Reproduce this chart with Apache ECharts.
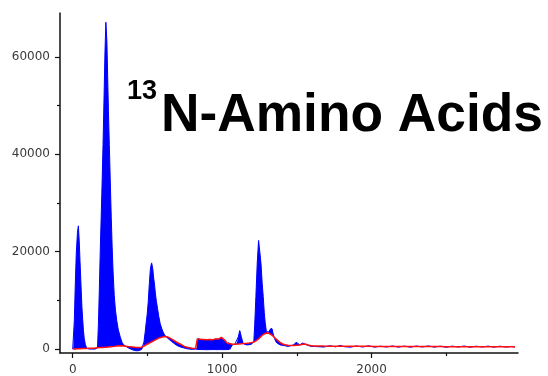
<!DOCTYPE html>
<html><head><meta charset="utf-8">
<script src="https://cdn.jsdelivr.net/npm/echarts@6/dist/echarts.min.js"></script>
<style>html,body{margin:0;padding:0;background:#fff}#c{width:548px;height:376px}</style>
</head><body><div id="c"></div>
<script>
// retention time (x), detector signal and integration baseline
const TIME = [0,4,11,17,24,32,38,44,49,56,62,67,72,77,85,94,110,130,150,166,172,178,186,195,203,210,216,222,229,234,239,245,251,258,264,270,278,286,295,305,318,330,340,355,370,385,400,415,430,445,460,470,477,485,492,498,505,513,520,527,531,536,541,547,553,560,568,576,585,595,605,615,622,630,645,660,677,695,712,730,744,760,780,800,822,830,834,845,855,865,875,885,895,905,915,925,935,945,955,965,975,985,995,1005,1015,1025,1035,1045,1055,1070,1085,1098,1108,1118,1128,1140,1150,1165,1180,1195,1204,1212,1218,1226,1235,1244,1252,1260,1268,1275,1282,1288,1296,1305,1312,1320,1327,1334,1341,1350,1362,1375,1390,1405,1420,1440,1460,1480,1495,1505,1520,1540,1555,1570,1590,1610,1640,1680,1720,1760,1790,1820,1860,1900,1940,1980,2020,2060,2100,2140,2180,2220,2260,2300,2340,2380,2420,2460,2500,2540,2580,2620,2660,2700,2740,2780,2820,2860,2900,2940,2960];
const SIGNAL = [0,0,6000,13000,19700,24000,25300,22000,18000,12800,8500,6000,3800,2200,900,150,20,0,0,300,5000,12000,22000,32000,42000,52000,61000,67100,63000,56000,49000,42000,35000,27000,21000,16000,11000,8000,5800,4000,2500,1400,900,600,300,50,-150,-300,-350,-300,-100,300,1500,3500,5500,7000,9500,13500,16500,17600,17900,16500,14800,13400,11500,9800,8300,6700,5300,4300,3500,2900,2600,2400,2000,1600,1200,800,550,350,250,100,0,-50,0,0,-100,-80,-120,-100,-90,-110,-100,-120,-80,-100,-110,-90,-100,-120,-100,-90,-100,-110,-80,-100,-120,-100,-80,900,1000,1200,2500,3800,2600,1200,900,850,900,1000,1200,1500,5000,10800,17700,22300,20000,17600,13500,10800,7500,5500,3600,3300,3500,4000,4400,4200,3200,2200,1400,1000,850,750,700,550,700,900,1400,1100,900,1250,1000,800,600,550,500,420,700,450,760,480,400,650,420,680,400,600,420,650,400,620,380,640,420,660,400,600,380,620,420,640,380,600,420,620,400,600,420,560,450];
const BASELINE = [0,10,20,30,40,50,60,70,80,90,100,110,120,120,130,140,160,180,220,260,280,290,310,330,350,370,390,400,420,430,440,460,480,500,520,540,560,590,620,650,680,660,640,600,540,500,450,400,350,320,400,500,600,800,900,1000,1100,1250,1350,1450,1550,1650,1700,1800,1900,2000,2150,2250,2350,2450,2520,2580,2600,2550,2350,2100,1800,1450,1150,850,600,420,300,180,100,150,2100,2250,2000,2150,1950,2050,1900,2000,1950,2100,1900,2000,2100,2200,2050,2250,2400,2100,1900,1500,1200,1400,1100,1000,1020,1040,1060,1080,1100,1130,1160,1200,1260,1330,1380,1450,1550,1700,1900,2100,2350,2600,2850,3000,3150,3250,3300,3300,3250,3150,3000,2850,2650,2400,2050,1700,1300,1050,900,800,750,760,800,800,850,1000,1050,900,750,650,640,620,610,600,600,590,580,580,570,570,560,560,550,550,540,540,530,530,520,520,510,510,500,500,500,490,490,480,480,480,470,470,460,460,450];
const X_TICKS = [0, 1000, 2000];
const X_MINOR = [500, 1500, 2500];
const Y_TICKS = [0, 20000, 40000, 60000];
const Y_MINOR = [10000, 30000, 50000];
const TITLE_SUP = '13';
const TITLE_MAIN = 'N-Amino Acids';

const signalData = TIME.map((t, i) => [t, SIGNAL[i]]);
const baseData = TIME.map((t, i) => [t, BASELINE[i]]);

const AX = '#111';
const labelStyle = {fontFamily: 'DejaVu Sans', fontSize: 12, color: '#3a3a3a'};
const XMIN = -85, XMAX = 2980, YMIN = -800, YMAX = 69000;

const chart = echarts.init(document.getElementById('c'), null, {renderer: 'canvas'});
chart.setOption({
  animation: false,
  backgroundColor: '#fff',
  grid: {left: 60, right: 30, top: 13, bottom: 23, containLabel: false},
  xAxis: [
    {type: 'value', min: XMIN, max: XMAX, position: 'bottom',
     axisLine: {show: true, onZero: false, lineStyle: {color: AX, width: 1.5}},
     axisTick: {show: true, customValues: X_TICKS, length: 5, lineStyle: {color: AX, width: 1.2}},
     axisLabel: Object.assign({customValues: X_TICKS, margin: 11, formatter: v => String(v)}, labelStyle),
     splitLine: {show: false}},
    {type: 'value', min: XMIN, max: XMAX, position: 'bottom',
     axisLine: {show: false, onZero: false},
     axisTick: {show: true, customValues: X_MINOR, length: 3, lineStyle: {color: AX, width: 1.2}},
     axisLabel: {show: false}, splitLine: {show: false}}
  ],
  yAxis: [
    {type: 'value', min: YMIN, max: YMAX, position: 'left',
     axisLine: {show: true, onZero: false, lineStyle: {color: AX, width: 1.5}},
     axisTick: {show: true, customValues: Y_TICKS, length: 5, lineStyle: {color: AX, width: 1.2}},
     axisLabel: Object.assign({customValues: Y_TICKS, margin: 10, formatter: v => String(v)}, labelStyle),
     splitLine: {show: false}},
    {type: 'value', min: YMIN, max: YMAX, position: 'left',
     axisLine: {show: false, onZero: false},
     axisTick: {show: true, customValues: Y_MINOR, length: 3, lineStyle: {color: AX, width: 1.2}},
     axisLabel: {show: false}, splitLine: {show: false}}
  ],
  series: [
    {type: 'custom', name: 'fill', data: [0], silent: true, z: 2,
     renderItem: function (params, api) {
       const pts = [];
       for (let i = 0; i < TIME.length; i++) pts.push(api.coord([TIME[i], SIGNAL[i]]));
       for (let i = TIME.length - 1; i >= 0; i--) pts.push(api.coord([TIME[i], BASELINE[i]]));
       return {type: 'polygon', shape: {points: pts}, style: {fill: '#0000ff', stroke: null}};
     }},
    {type: 'line', name: 'signal', data: signalData, symbol: 'none', silent: true,
     lineStyle: {color: '#0000ff', width: 1}, z: 3},
    {type: 'line', name: 'baseline', data: baseData, symbol: 'none', silent: true,
     lineStyle: {color: '#ff1010', width: 1.5}, z: 4}
  ],
  graphic: [
    {type: 'text', x: 127, y: 92, z: 10,
     style: {text: TITLE_SUP, fontFamily: 'Liberation Sans', fontWeight: 'bold', fontSize: 27, fill: '#000', verticalAlign: 'middle', align: 'left'}},
    {type: 'text', x: 161, y: 116, z: 10,
     style: {text: TITLE_MAIN, fontFamily: 'Liberation Sans', fontWeight: 'bold', fontSize: 53.3, fill: '#000', verticalAlign: 'middle', align: 'left'}}
  ]
});
</script></body></html>
